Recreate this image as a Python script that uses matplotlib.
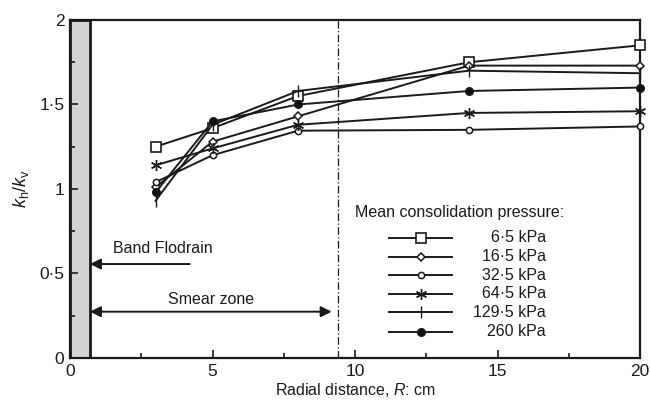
import matplotlib
matplotlib.use("Agg")
import matplotlib.pyplot as plt
from matplotlib.ticker import MultipleLocator, FixedLocator

plt.rcParams['font.family'] = ['Liberation Sans', 'DejaVu Sans']
plt.rcParams['mathtext.fontset'] = 'custom'
plt.rcParams['mathtext.rm'] = 'Liberation Sans'
plt.rcParams['mathtext.it'] = 'Liberation Sans:italic'

# radial distance (cm)
radius = [3, 5, 8, 14, 20]

# kh/kv for each mean consolidation pressure
p_6_5 = [1.25, 1.36, 1.55, 1.75, 1.85]
p_16_5 = [1.01, 1.28, 1.43, 1.73, 1.73]
p_32_5 = [1.04, 1.20, 1.345, 1.35, 1.37]
p_64_5 = [1.14, 1.24, 1.38, 1.45, 1.46]
p_129_5 = [0.93, 1.38, 1.58, 1.70, 1.685]
p_260 = [0.98, 1.40, 1.50, 1.58, 1.60]

labels = ['6·5 kPa', '16·5 kPa', '32·5 kPa', '64·5 kPa', '129·5 kPa', '260 kPa']
series = [p_6_5, p_16_5, p_32_5, p_64_5, p_129_5, p_260]
markers = [
    dict(marker='s', ms=7, mfc='white', mew=1.2),
    dict(marker='D', ms=4.5, mfc='white', mew=1.1),
    dict(marker='o', ms=4.5, mfc='white', mew=1.1),
    dict(marker=(6, 2, 0), ms=8, mew=1.0),
    dict(marker='|', ms=9, mew=1.0),
    dict(marker='o', ms=5.5, mfc='#111111', mew=1.0),
]

drain_width = 0.7
smear_radius = 9.4

col = '#1a1a1a'

fig = plt.figure(figsize=(6.5, 4.03), dpi=100)
ax = fig.add_axes([0.1077, 0.1117, 0.877, 0.8387])

# drain band
ax.axvspan(0, drain_width, facecolor='#d4d4d6', edgecolor=col, lw=2.0, zorder=1)
ax.axvline(smear_radius, color=col, lw=0.9, ls=(0, (6, 2, 1, 2)), zorder=1)

for vals, mk in zip(series, markers):
    ax.plot(radius, vals, color=col, lw=1.4, mec=col, clip_on=False, zorder=3, **mk)

# legend drawn by hand so labels can be right aligned
ax.text(10.0, 0.86, 'Mean consolidation pressure:', fontsize=11.5, color=col,
        va='center', ha='left')
leg_y = [0.71, 0.60, 0.49, 0.38, 0.27, 0.155]
for y, lab, mk in zip(leg_y, labels, markers):
    ax.plot([11.2, 13.4], [y, y], color=col, lw=1.4, zorder=3)
    ax.plot([12.3], [y], color=col, mec=col, zorder=4, **mk)
    ax.text(16.7, y, lab, fontsize=11.5, color=col, va='center', ha='right')

# annotations
ax.annotate('', xy=(drain_width, 0.556), xytext=(4.2, 0.556),
            arrowprops=dict(arrowstyle='-|>', color=col, lw=1.4,
                            mutation_scale=16, shrinkA=0, shrinkB=0))
ax.text(1.5, 0.645, 'Band Flodrain', fontsize=11.5, color=col, va='center', ha='left')
ax.annotate('', xy=(drain_width, 0.274), xytext=(9.18, 0.274),
            arrowprops=dict(arrowstyle='<|-|>', color=col, lw=1.4,
                            mutation_scale=16, shrinkA=0, shrinkB=0))
ax.text(4.95, 0.345, 'Smear zone', fontsize=11.5, color=col, va='center', ha='center')

ax.set_xlim(0, 20)
ax.set_ylim(0, 2)
ax.xaxis.set_major_locator(MultipleLocator(5))
ax.xaxis.set_minor_locator(MultipleLocator(2.5))
ax.yaxis.set_major_locator(FixedLocator([0, 0.5, 1, 1.5, 2]))
ax.yaxis.set_minor_locator(MultipleLocator(0.25))
ax.set_yticklabels(['0', '0·5', '1', '1·5', '2'])
ax.tick_params(which='both', direction='in', top=False, right=False,
               labelsize=12.5, colors=col, width=1.2)
ax.tick_params(which='major', length=6, pad=4)
ax.tick_params(which='minor', length=3.5)
for s in ax.spines.values():
    s.set_linewidth(1.6)
    s.set_color(col)

ax.set_xlabel('Radial distance, $R$: cm', fontsize=11.5, color=col, labelpad=2)
ax.set_ylabel('$k_\\mathrm{h}/k_\\mathrm{v}$', fontsize=13, color=col, labelpad=6)

fig.savefig('out.png', dpi=100)
